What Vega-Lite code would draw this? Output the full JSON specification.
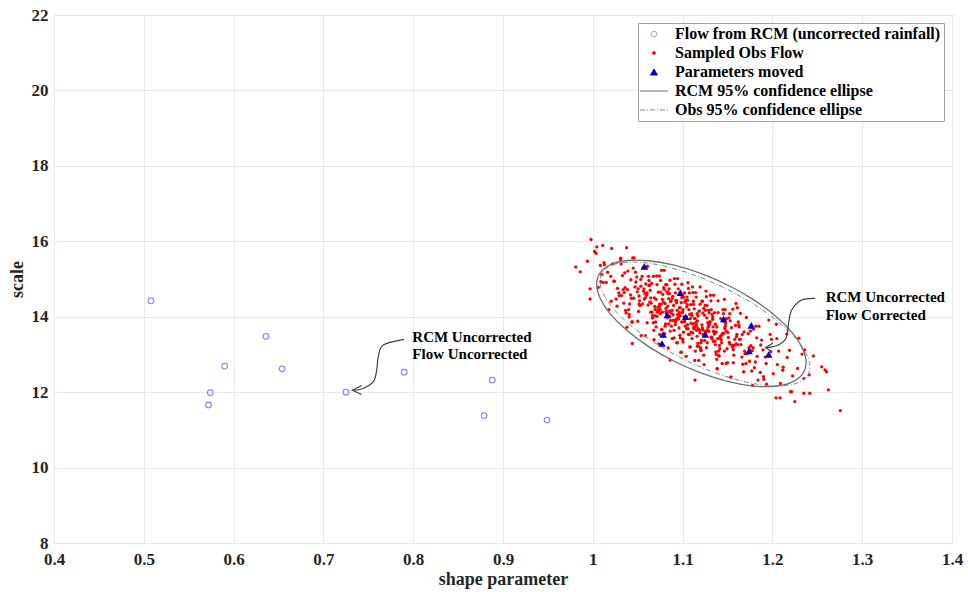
{
"$schema": "https://vega.github.io/schema/vega-lite/v6.json",
"width": 898, "height": 528,
"autosize": {"type": "none"},
"padding": {"left": 54, "top": 15, "right": 16, "bottom": 49},
"background": "white",
"config": {
  "view": {"stroke": "#a0a0a0", "strokeWidth": 1},
  "font": "Liberation Serif",
  "axis": {"grid": true, "gridColor": "#e9e9e9", "domain": false, "ticks": false, "labelFont": "Liberation Serif", "labelFontWeight": "bold", "labelColor": "#262626", "labelFontSize": 17, "labelFlush": false, "titleFont": "Liberation Serif", "titleFontWeight": "bold", "titleFontSize": 18, "titleColor": "#262626"}
},
"datasets": {
  "obs": [
{"shape":0.981,"scale":15.32},{"shape":0.997,"scale":14.74},{"shape":0.994,"scale":15.47},
{"shape":1.009,"scale":14.93},{"shape":1.002,"scale":15.73},{"shape":1.006,"scale":14.78},
{"shape":1.010,"scale":15.12},{"shape":1.018,"scale":14.19},{"shape":1.013,"scale":15.38},{"shape":1.015,"scale":14.91},{"shape":1.011,"scale":15.89},
{"shape":1.027,"scale":14.28},{"shape":1.024,"scale":14.94},{"shape":1.029,"scale":14.63},{"shape":1.022,"scale":15.40},{"shape":1.026,"scale":14.47},{"shape":1.020,"scale":15.07},
{"shape":1.038,"scale":13.72},{"shape":1.033,"scale":15.09},{"shape":1.035,"scale":14.64},{"shape":1.031,"scale":15.52},{"shape":1.037,"scale":14.10},{"shape":1.034,"scale":14.72},{"shape":1.039,"scale":15.21},{"shape":1.032,"scale":14.56},{"shape":1.036,"scale":14.77},
{"shape":1.040,"scale":14.19},{"shape":1.048,"scale":14.92},{"shape":1.043,"scale":14.49},{"shape":1.045,"scale":15.29},{"shape":1.041,"scale":14.34},{"shape":1.047,"scale":14.79},{"shape":1.044,"scale":13.86},{"shape":1.049,"scale":15.05},{"shape":1.042,"scale":14.58},{"shape":1.046,"scale":15.56},{"shape":1.0405,"scale":14.06},
{"shape":1.058,"scale":14.61},{"shape":1.053,"scale":14.30},{"shape":1.055,"scale":15.07},{"shape":1.051,"scale":14.14},{"shape":1.057,"scale":14.74},{"shape":1.054,"scale":13.50},{"shape":1.059,"scale":14.87},{"shape":1.052,"scale":14.42},{"shape":1.056,"scale":15.30},{"shape":1.050,"scale":13.88},{"shape":1.0585,"scale":14.50},{"shape":1.0535,"scale":14.99},{"shape":1.0555,"scale":14.34},{"shape":1.0515,"scale":14.55},
{"shape":1.067,"scale":13.97},{"shape":1.064,"scale":14.70},{"shape":1.069,"scale":14.27},{"shape":1.062,"scale":15.07},{"shape":1.066,"scale":14.12},{"shape":1.060,"scale":14.57},{"shape":1.068,"scale":13.64},{"shape":1.063,"scale":14.83},{"shape":1.065,"scale":14.36},{"shape":1.061,"scale":15.34},{"shape":1.0675,"scale":13.84},{"shape":1.0645,"scale":14.50},{"shape":1.0695,"scale":14.19},{"shape":1.0625,"scale":14.96},{"shape":1.0665,"scale":14.03},{"shape":1.0605,"scale":14.63},{"shape":1.0682,"scale":13.39},
{"shape":1.073,"scale":14.65},{"shape":1.075,"scale":14.20},{"shape":1.071,"scale":15.08},{"shape":1.077,"scale":13.66},{"shape":1.074,"scale":14.28},{"shape":1.079,"scale":14.77},{"shape":1.072,"scale":14.12},{"shape":1.076,"scale":14.33},{"shape":1.070,"scale":13.86},{"shape":1.078,"scale":14.59},{"shape":1.0735,"scale":14.16},{"shape":1.0755,"scale":14.96},{"shape":1.0715,"scale":14.01},{"shape":1.0775,"scale":14.46},{"shape":1.0745,"scale":13.53},{"shape":1.0795,"scale":14.72},{"shape":1.0725,"scale":14.25},{"shape":1.0765,"scale":15.23},{"shape":1.0705,"scale":13.73},{"shape":1.0785,"scale":14.39},
{"shape":1.083,"scale":13.97},{"shape":1.085,"scale":14.74},{"shape":1.081,"scale":13.81},{"shape":1.087,"scale":14.41},{"shape":1.084,"scale":13.17},{"shape":1.089,"scale":14.54},{"shape":1.082,"scale":14.09},{"shape":1.086,"scale":14.97},{"shape":1.080,"scale":13.55},{"shape":1.088,"scale":14.17},{"shape":1.0835,"scale":14.66},{"shape":1.0855,"scale":14.01},{"shape":1.0815,"scale":14.22},{"shape":1.0875,"scale":13.75},{"shape":1.0845,"scale":14.48},{"shape":1.0895,"scale":14.05},{"shape":1.0825,"scale":14.85},{"shape":1.0865,"scale":13.90},{"shape":1.0805,"scale":14.35},{"shape":1.0885,"scale":13.42},{"shape":1.0838,"scale":14.61},{"shape":1.0852,"scale":14.14},
{"shape":1.091,"scale":15.01},{"shape":1.097,"scale":13.51},{"shape":1.094,"scale":14.17},{"shape":1.099,"scale":13.86},{"shape":1.092,"scale":14.63},{"shape":1.096,"scale":13.70},{"shape":1.090,"scale":14.30},{"shape":1.098,"scale":13.06},{"shape":1.093,"scale":14.43},{"shape":1.095,"scale":13.98},{"shape":1.0915,"scale":14.86},{"shape":1.0975,"scale":13.44},{"shape":1.0945,"scale":14.06},{"shape":1.0995,"scale":14.55},{"shape":1.0925,"scale":13.90},{"shape":1.0965,"scale":14.11},{"shape":1.0905,"scale":13.64},{"shape":1.0985,"scale":14.37},{"shape":1.0932,"scale":13.94},{"shape":1.0952,"scale":14.74},{"shape":1.0918,"scale":13.79},{"shape":1.0972,"scale":14.24},{"shape":1.0942,"scale":13.31},{"shape":1.0992,"scale":14.50},
{"shape":1.102,"scale":13.92},{"shape":1.106,"scale":14.90},{"shape":1.100,"scale":13.40},{"shape":1.108,"scale":14.06},{"shape":1.103,"scale":13.75},{"shape":1.105,"scale":14.52},{"shape":1.101,"scale":13.59},{"shape":1.107,"scale":14.19},{"shape":1.104,"scale":12.95},{"shape":1.109,"scale":14.32},{"shape":1.1025,"scale":13.87},{"shape":1.1065,"scale":14.75},{"shape":1.1005,"scale":13.33},{"shape":1.1085,"scale":13.95},{"shape":1.1035,"scale":14.44},{"shape":1.1055,"scale":13.79},{"shape":1.1015,"scale":14.00},{"shape":1.1075,"scale":13.53},{"shape":1.1045,"scale":14.26},{"shape":1.1095,"scale":13.83},{"shape":1.1022,"scale":14.63},{"shape":1.1062,"scale":13.68},{"shape":1.1002,"scale":14.13},{"shape":1.1082,"scale":13.20},{"shape":1.1032,"scale":14.39},
{"shape":1.115,"scale":13.81},{"shape":1.111,"scale":14.79},{"shape":1.117,"scale":13.29},{"shape":1.114,"scale":13.95},{"shape":1.119,"scale":13.64},{"shape":1.112,"scale":14.41},{"shape":1.116,"scale":13.48},{"shape":1.110,"scale":14.08},{"shape":1.118,"scale":12.84},{"shape":1.113,"scale":14.21},{"shape":1.1155,"scale":13.76},{"shape":1.1115,"scale":14.64},{"shape":1.1175,"scale":13.22},{"shape":1.1145,"scale":13.84},{"shape":1.1195,"scale":14.33},{"shape":1.1125,"scale":13.68},{"shape":1.1165,"scale":13.89},{"shape":1.1105,"scale":13.42},{"shape":1.1185,"scale":14.15},{"shape":1.1135,"scale":13.72},{"shape":1.1152,"scale":14.52},{"shape":1.1112,"scale":13.57},{"shape":1.1172,"scale":14.02},{"shape":1.1142,"scale":13.09},
{"shape":1.129,"scale":14.17},{"shape":1.122,"scale":13.70},{"shape":1.126,"scale":14.68},{"shape":1.120,"scale":13.18},{"shape":1.128,"scale":13.84},{"shape":1.123,"scale":13.53},{"shape":1.125,"scale":14.30},{"shape":1.121,"scale":13.37},{"shape":1.127,"scale":13.97},{"shape":1.124,"scale":12.73},{"shape":1.1295,"scale":14.10},{"shape":1.1225,"scale":13.65},{"shape":1.1265,"scale":14.53},{"shape":1.1205,"scale":13.11},{"shape":1.1285,"scale":13.73},{"shape":1.1235,"scale":14.22},{"shape":1.1255,"scale":13.57},{"shape":1.1215,"scale":13.78},{"shape":1.1275,"scale":13.31},{"shape":1.1245,"scale":14.04},{"shape":1.1292,"scale":13.61},{"shape":1.1222,"scale":14.41},
{"shape":1.136,"scale":13.35},{"shape":1.130,"scale":13.80},{"shape":1.138,"scale":12.87},{"shape":1.133,"scale":14.06},{"shape":1.135,"scale":13.59},{"shape":1.131,"scale":14.57},{"shape":1.137,"scale":13.07},{"shape":1.134,"scale":13.73},{"shape":1.139,"scale":13.42},{"shape":1.132,"scale":14.19},{"shape":1.1365,"scale":13.26},{"shape":1.1305,"scale":13.86},{"shape":1.1385,"scale":12.62},{"shape":1.1335,"scale":13.99},{"shape":1.1355,"scale":13.54},{"shape":1.1315,"scale":14.42},{"shape":1.1375,"scale":13.00},{"shape":1.1345,"scale":13.62},{"shape":1.1395,"scale":14.11},{"shape":1.1325,"scale":13.46},
{"shape":1.146,"scale":13.56},{"shape":1.140,"scale":13.09},{"shape":1.148,"scale":13.82},{"shape":1.143,"scale":13.39},{"shape":1.145,"scale":14.19},{"shape":1.141,"scale":13.24},{"shape":1.147,"scale":13.69},{"shape":1.144,"scale":12.76},{"shape":1.149,"scale":13.95},{"shape":1.142,"scale":13.48},{"shape":1.1465,"scale":14.46},{"shape":1.1405,"scale":12.96},{"shape":1.1485,"scale":13.62},{"shape":1.1435,"scale":13.31},{"shape":1.1455,"scale":14.08},{"shape":1.1415,"scale":13.15},{"shape":1.1475,"scale":13.75},
{"shape":1.154,"scale":12.40},{"shape":1.159,"scale":13.77},{"shape":1.152,"scale":13.32},{"shape":1.156,"scale":14.20},{"shape":1.150,"scale":12.78},{"shape":1.158,"scale":13.40},{"shape":1.153,"scale":13.89},{"shape":1.155,"scale":13.24},{"shape":1.151,"scale":13.45},{"shape":1.157,"scale":12.98},{"shape":1.1545,"scale":13.71},{"shape":1.1595,"scale":13.28},{"shape":1.1525,"scale":14.08},{"shape":1.1565,"scale":13.13},
{"shape":1.160,"scale":13.47},{"shape":1.168,"scale":12.54},{"shape":1.163,"scale":13.73},{"shape":1.165,"scale":13.26},{"shape":1.161,"scale":14.24},{"shape":1.167,"scale":12.74},{"shape":1.164,"scale":13.40},{"shape":1.169,"scale":13.09},{"shape":1.162,"scale":13.86},{"shape":1.166,"scale":12.93},{"shape":1.1605,"scale":13.53},
{"shape":1.178,"scale":12.18},{"shape":1.173,"scale":13.55},{"shape":1.175,"scale":13.10},{"shape":1.171,"scale":13.98},{"shape":1.177,"scale":12.56},{"shape":1.174,"scale":13.18},{"shape":1.179,"scale":13.67},{"shape":1.172,"scale":13.02},{"shape":1.176,"scale":13.23},
{"shape":1.180,"scale":12.65},{"shape":1.188,"scale":13.38},{"shape":1.183,"scale":12.95},{"shape":1.185,"scale":13.75},{"shape":1.181,"scale":12.80},{"shape":1.187,"scale":13.25},{"shape":1.184,"scale":12.32},
{"shape":1.199,"scale":13.40},{"shape":1.192,"scale":12.93},{"shape":1.196,"scale":13.91},{"shape":1.190,"scale":12.41},{"shape":1.198,"scale":13.07},{"shape":1.193,"scale":12.76},
{"shape":1.205,"scale":13.42},{"shape":1.201,"scale":12.49},{"shape":1.207,"scale":13.09},{"shape":1.204,"scale":11.85},
{"shape":1.219,"scale":13.11},{"shape":1.212,"scale":12.66},{"shape":1.216,"scale":13.54},
{"shape":1.220,"scale":12.01},{"shape":1.228,"scale":12.63},
{"shape":1.233,"scale":13.01},{"shape":1.235,"scale":12.36},
{"shape":1.241,"scale":12.46},
{"shape":0.998,"scale":16.05},{"shape":0.986,"scale":15.19},{"shape":0.997,"scale":14.47},{"shape":1.0036,"scale":15.68},{"shape":1.021,"scale":15.81},{"shape":1.0377,"scale":15.83},{"shape":1.031,"scale":15.55},{"shape":1.044,"scale":13.29},{"shape":1.086,"scale":12.85},{"shape":1.1138,"scale":12.32},{"shape":1.2456,"scale":12.96},{"shape":1.2549,"scale":12.67},{"shape":1.2603,"scale":12.54},{"shape":1.2623,"scale":12.06},{"shape":1.2416,"scale":11.97},{"shape":1.235,"scale":11.97},{"shape":1.2249,"scale":11.75},{"shape":1.2756,"scale":11.51},{"shape":1.2213,"scale":12.01},{"shape":1.209,"scale":12.23},{"shape":1.236,"scale":13.12},{"shape":1.2586,"scale":12.59},
{"shape":1.0045,"scale":15.85},{"shape":1.0085,"scale":15.36},
{"shape":1.0115,"scale":14.91},{"shape":1.0165,"scale":15.18},{"shape":1.0125,"scale":15.43},
{"shape":1.0295,"scale":14.56},{"shape":1.0235,"scale":14.94},{"shape":1.0275,"scale":14.75},{"shape":1.0205,"scale":14.41},
{"shape":1.0355,"scale":15.16},{"shape":1.0345,"scale":14.36},{"shape":1.0385,"scale":14.72},{"shape":1.0315,"scale":15.40},{"shape":1.0365,"scale":14.17},
{"shape":1.0425,"scale":14.98},{"shape":1.0495,"scale":14.66},{"shape":1.0435,"scale":13.86},{"shape":1.0475,"scale":15.18},{"shape":1.0405,"scale":13.99},{"shape":1.0455,"scale":14.49},{"shape":1.0445,"scale":15.56},
{"shape":1.0585,"scale":13.50},{"shape":1.0515,"scale":14.34},{"shape":1.0565,"scale":14.68},{"shape":1.0525,"scale":14.30},{"shape":1.0595,"scale":15.30},{"shape":1.0535,"scale":14.81},{"shape":1.0575,"scale":14.47},{"shape":1.0505,"scale":14.74},
{"shape":1.0655,"scale":14.88},{"shape":1.0645,"scale":14.12},{"shape":1.0685,"scale":14.50},{"shape":1.0615,"scale":14.31},{"shape":1.0665,"scale":13.97},{"shape":1.0625,"scale":14.83},{"shape":1.0695,"scale":14.03},{"shape":1.0635,"scale":14.39},{"shape":1.0675,"scale":15.07},{"shape":1.0605,"scale":13.84},
{"shape":1.0755,"scale":14.65},{"shape":1.0745,"scale":14.33},{"shape":1.0785,"scale":13.53},{"shape":1.0715,"scale":14.85},{"shape":1.0765,"scale":13.66},{"shape":1.0725,"scale":14.16},{"shape":1.0795,"scale":15.23},{"shape":1.0735,"scale":13.28},{"shape":1.0775,"scale":14.12},{"shape":1.0705,"scale":14.46},{"shape":1.0752,"scale":14.08},{"shape":1.0742,"scale":15.08},
{"shape":1.0885,"scale":14.48},{"shape":1.0815,"scale":14.14},{"shape":1.0865,"scale":14.41},{"shape":1.0825,"scale":14.66},{"shape":1.0895,"scale":13.90},{"shape":1.0835,"scale":14.28},{"shape":1.0875,"scale":14.09},{"shape":1.0805,"scale":13.75},{"shape":1.0855,"scale":14.61},{"shape":1.0845,"scale":13.81},{"shape":1.0882,"scale":14.17},{"shape":1.0812,"scale":14.85},{"shape":1.0862,"scale":13.62},
{"shape":1.0925,"scale":14.43},{"shape":1.0995,"scale":14.11},{"shape":1.0935,"scale":13.31},{"shape":1.0975,"scale":14.63},{"shape":1.0905,"scale":13.44},{"shape":1.0955,"scale":13.94},{"shape":1.0945,"scale":15.01},{"shape":1.0985,"scale":13.06},{"shape":1.0915,"scale":13.90},{"shape":1.0965,"scale":14.24},{"shape":1.0922,"scale":13.86},{"shape":1.0992,"scale":14.86},{"shape":1.0932,"scale":14.37},{"shape":1.0972,"scale":14.03},
{"shape":1.1005,"scale":14.19},{"shape":1.1055,"scale":14.44},{"shape":1.1045,"scale":13.68},{"shape":1.1085,"scale":14.06},{"shape":1.1015,"scale":13.87},{"shape":1.1065,"scale":13.53},{"shape":1.1025,"scale":14.39},{"shape":1.1095,"scale":13.59},{"shape":1.1035,"scale":13.95},{"shape":1.1075,"scale":14.63},{"shape":1.1002,"scale":13.40},{"shape":1.1052,"scale":14.32},{"shape":1.1042,"scale":14.00},{"shape":1.1082,"scale":13.20},{"shape":1.1012,"scale":14.52},
{"shape":1.1165,"scale":13.22},{"shape":1.1125,"scale":13.72},{"shape":1.1195,"scale":14.79},{"shape":1.1135,"scale":12.84},{"shape":1.1175,"scale":13.68},{"shape":1.1105,"scale":14.02},{"shape":1.1155,"scale":13.64},{"shape":1.1145,"scale":14.64},{"shape":1.1185,"scale":14.15},{"shape":1.1115,"scale":13.81},{"shape":1.1162,"scale":14.08},{"shape":1.1122,"scale":14.33},{"shape":1.1192,"scale":13.57},{"shape":1.1132,"scale":13.95},
{"shape":1.1275,"scale":13.65},{"shape":1.1205,"scale":13.31},{"shape":1.1255,"scale":14.17},{"shape":1.1245,"scale":13.37},{"shape":1.1285,"scale":13.73},{"shape":1.1215,"scale":14.41},{"shape":1.1265,"scale":13.18},{"shape":1.1225,"scale":14.10},{"shape":1.1295,"scale":13.78},{"shape":1.1235,"scale":12.98},{"shape":1.1272,"scale":14.30},{"shape":1.1202,"scale":13.11},{"shape":1.1252,"scale":13.61},
{"shape":1.1345,"scale":14.57},{"shape":1.1385,"scale":12.62},{"shape":1.1315,"scale":13.46},{"shape":1.1365,"scale":13.80},{"shape":1.1325,"scale":13.42},{"shape":1.1395,"scale":14.42},{"shape":1.1335,"scale":13.93},{"shape":1.1375,"scale":13.59},{"shape":1.1305,"scale":13.86},{"shape":1.1355,"scale":14.11},{"shape":1.1342,"scale":13.35},{"shape":1.1382,"scale":13.73},
{"shape":1.1415,"scale":13.43},{"shape":1.1465,"scale":13.09},{"shape":1.1425,"scale":13.95},{"shape":1.1495,"scale":13.15},{"shape":1.1435,"scale":13.51},{"shape":1.1475,"scale":14.19},{"shape":1.1405,"scale":12.96},{"shape":1.1455,"scale":13.88},{"shape":1.1445,"scale":13.56},{"shape":1.1485,"scale":12.76},
{"shape":1.1515,"scale":13.97},{"shape":1.1565,"scale":12.78},{"shape":1.1525,"scale":13.28},{"shape":1.1595,"scale":14.35},{"shape":1.1535,"scale":12.40},{"shape":1.1575,"scale":13.24},{"shape":1.1505,"scale":13.58},{"shape":1.1555,"scale":13.20},
{"shape":1.1645,"scale":14.09},{"shape":1.1685,"scale":13.60},{"shape":1.1615,"scale":13.26},{"shape":1.1665,"scale":13.53},{"shape":1.1625,"scale":13.78},{"shape":1.1695,"scale":13.02},{"shape":1.1635,"scale":13.40},
{"shape":1.1775,"scale":13.10},{"shape":1.1705,"scale":12.76},{"shape":1.1755,"scale":13.62},{"shape":1.1745,"scale":12.82},{"shape":1.1785,"scale":13.18},
{"shape":1.1815,"scale":13.75},{"shape":1.1865,"scale":12.52},{"shape":1.1825,"scale":13.44},{"shape":1.1895,"scale":13.12},
{"shape":1.1935,"scale":12.21},{"shape":1.1975,"scale":13.53},{"shape":1.1905,"scale":12.34},
{"shape":1.2055,"scale":12.73},{"shape":1.2045,"scale":13.80},{"shape":1.2085,"scale":11.85},
{"shape":1.2115,"scale":12.58},{"shape":1.2165,"scale":12.92},
{"shape":1.2225,"scale":12.43},{"shape":1.2295,"scale":13.43}
  ],
  "rcm": [
{"shape":0.508,"scale":14.42},{"shape":0.636,"scale":13.48},{"shape":0.590,"scale":12.69},{"shape":0.654,"scale":12.62},{"shape":0.574,"scale":11.99},{"shape":0.572,"scale":11.66},{"shape":0.725,"scale":12.00},{"shape":0.790,"scale":12.53},{"shape":0.888,"scale":12.32},{"shape":0.879,"scale":11.38},{"shape":0.949,"scale":11.26}
  ],
  "moved": [
{"shape":1.0574,"scale":15.33},{"shape":1.0975,"scale":14.64},{"shape":1.083,"scale":14.05},{"shape":1.1034,"scale":14.00},{"shape":1.1457,"scale":13.94},{"shape":1.1765,"scale":13.77},{"shape":1.1253,"scale":13.53},{"shape":1.0782,"scale":13.53},{"shape":1.0771,"scale":13.29},{"shape":1.1739,"scale":13.09},{"shape":1.1958,"scale":13.00}
  ],
  "rcm_ellipse": [
{"o":0,"shape":1.2375,"scale":12.785},{"o":1,"shape":1.2335,"scale":12.479},{"o":2,"shape":1.2219,"scale":12.265},{"o":3,"shape":1.2033,"scale":12.156},{"o":4,"shape":1.1792,"scale":12.162},{"o":5,"shape":1.1511,"scale":12.281},{"o":6,"shape":1.1209,"scale":12.504},{"o":7,"shape":1.0907,"scale":12.818},{"o":8,"shape":1.0626,"scale":13.200},{"o":9,"shape":1.0385,"scale":13.625},{"o":10,"shape":1.0199,"scale":14.063},{"o":11,"shape":1.0083,"scale":14.485},{"o":12,"shape":1.0043,"scale":14.861},{"o":13,"shape":1.0083,"scale":15.167},{"o":14,"shape":1.0199,"scale":15.382},{"o":15,"shape":1.0385,"scale":15.490},{"o":16,"shape":1.0626,"scale":15.484},{"o":17,"shape":1.0907,"scale":15.365},{"o":18,"shape":1.1209,"scale":15.142},{"o":19,"shape":1.1511,"scale":14.828},{"o":20,"shape":1.1792,"scale":14.446},{"o":21,"shape":1.2033,"scale":14.021},{"o":22,"shape":1.2219,"scale":13.583},{"o":23,"shape":1.2335,"scale":13.161}
  ],
  "obs_ellipse": [
{"o":0,"shape":1.2418,"scale":12.671},{"o":1,"shape":1.2378,"scale":12.402},{"o":2,"shape":1.2262,"scale":12.229},{"o":3,"shape":1.2076,"scale":12.163},{"o":4,"shape":1.1834,"scale":12.210},{"o":5,"shape":1.1552,"scale":12.366},{"o":6,"shape":1.1249,"scale":12.619},{"o":7,"shape":1.0946,"scale":12.954},{"o":8,"shape":1.0664,"scale":13.347},{"o":9,"shape":1.0422,"scale":13.771},{"o":10,"shape":1.0236,"scale":14.197},{"o":11,"shape":1.0120,"scale":14.597},{"o":12,"shape":1.0080,"scale":14.943},{"o":13,"shape":1.0120,"scale":15.212},{"o":14,"shape":1.0236,"scale":15.385},{"o":15,"shape":1.0422,"scale":15.451},{"o":16,"shape":1.0664,"scale":15.404},{"o":17,"shape":1.0946,"scale":15.249},{"o":18,"shape":1.1249,"scale":14.995},{"o":19,"shape":1.1552,"scale":14.660},{"o":20,"shape":1.1834,"scale":14.268},{"o":21,"shape":1.2076,"scale":13.843},{"o":22,"shape":1.2262,"scale":13.417},{"o":23,"shape":1.2378,"scale":13.017}
  ],
  "arrow_curves": [
{"arrow":"a1","o":0,"shape":0.7898,"scale":13.401},{"arrow":"a1","o":1,"shape":0.7667,"scale":13.250},{"arrow":"a1","o":2,"shape":0.7611,"scale":12.940},{"arrow":"a1","o":3,"shape":0.7594,"scale":12.587},{"arrow":"a1","o":4,"shape":0.7556,"scale":12.277},{"arrow":"a1","o":5,"shape":0.7441,"scale":12.097},{"arrow":"a1","o":6,"shape":0.7330,"scale":12.043},
{"arrow":"a2","o":0,"shape":1.2474,"scale":14.488},{"arrow":"a2","o":1,"shape":1.2326,"scale":14.443},{"arrow":"a2","o":2,"shape":1.2215,"scale":14.178},{"arrow":"a2","o":3,"shape":1.2177,"scale":13.780},{"arrow":"a2","o":4,"shape":1.2151,"scale":13.428},{"arrow":"a2","o":5,"shape":1.2066,"scale":13.250},{"arrow":"a2","o":6,"shape":1.1937,"scale":13.178}
  ],
  "arrow_heads": [
{"arrow":"h1","o":0,"shape":0.7426,"scale":12.176},{"arrow":"h1","o":1,"shape":0.7322,"scale":12.049},{"arrow":"h1","o":2,"shape":0.7426,"scale":11.937},
{"arrow":"h2","o":0,"shape":1.2007,"scale":13.303},{"arrow":"h2","o":1,"shape":1.1923,"scale":13.178},{"arrow":"h2","o":2,"shape":1.1996,"scale":13.078}
  ],
  "notes": [
{"shape":0.799,"scale":13.337,"label":"RCM Uncorrected"},{"shape":0.799,"scale":12.879,"label":"Flow Uncorrected"},
{"shape":1.2593,"scale":14.382,"label":"RCM Uncorrected"},{"shape":1.2593,"scale":13.913,"label":"Flow Corrected"}
  ]
},
"encoding": {
  "x": {"field": "shape", "type": "quantitative", "scale": {"domain": [0.4, 1.4], "nice": false, "zero": false},
        "axis": {"values": [0.4,0.5,0.6,0.7,0.8,0.9,1,1.1,1.2,1.3,1.4], "format": "~g", "title": "shape parameter", "labelPadding": 8, "titlePadding": 3}},
  "y": {"field": "scale", "type": "quantitative", "scale": {"domain": [8, 22], "nice": false, "zero": false},
        "axis": {"values": [8,10,12,14,16,18,20,22], "title": "scale", "labelPadding": 6, "titlePadding": 5}}
},
"layer": [
  {"data": {"name": "obs"},
   "mark": {"type": "point", "filled": true, "size": 11, "opacity": 1, "strokeWidth": 0},
   "encoding": {"color": {"datum": "Sampled Obs Flow", "type": "nominal",
      "scale": {"domain": ["Flow from RCM (uncorrected rainfall)", "Sampled Obs Flow", "Parameters moved", "RCM 95% confidence ellipse", "Obs 95% confidence ellipse"],
                "range": ["#8080ff", "#ff0000", "#0000cd", "#6e6e6e", "#708c8c"]},
      "legend": {"title": null, "orient": "top-right", "offset": 8, "strokeColor": "#a0a0a0", "fillColor": "white", "padding": 3,
                 "labelFont": "Liberation Serif", "labelFontWeight": "bold", "labelFontSize": 16, "labelColor": "#000000", "labelLimit": 400,
                 "symbolSize": 784, "labelOffset": 13, "symbolOffset": 5, "rowPadding": 3,
                 "encoding": {"symbols": {
                    "shape": {"value": {"expr": "datum.value === 'Parameters moved' ? 'triangle-up' : ((datum.value === 'RCM 95% confidence ellipse' || datum.value === 'Obs 95% confidence ellipse') ? 'stroke' : 'circle')"}},
                    "size": {"value": {"expr": "datum.value === 'Parameters moved' ? 50 : ((datum.value === 'RCM 95% confidence ellipse' || datum.value === 'Obs 95% confidence ellipse') ? 784 : (datum.value === 'Sampled Obs Flow' ? 8 : 30))"}},
                    "fill": {"value": {"expr": "datum.value === 'Parameters moved' ? '#0000cd' : (datum.value === 'Sampled Obs Flow' ? '#ff0000' : '#ffffff')"}},
                    "fillOpacity": {"value": {"expr": "datum.value === 'Flow from RCM (uncorrected rainfall)' ? 0 : 1"}},
                    "stroke": {"value": {"expr": "datum.value === 'Flow from RCM (uncorrected rainfall)' ? '#8080ff' : (datum.value === 'RCM 95% confidence ellipse' ? '#6e6e6e' : (datum.value === 'Obs 95% confidence ellipse' ? '#708c8c' : 'transparent'))"}},
                    "strokeDash": {"value": {"expr": "datum.value === 'Obs 95% confidence ellipse' ? [5,2,1,2] : [1,0]"}},
                    "strokeWidth": {"value": 1},
                    "opacity": {"value": 1}
                 }}}}}},
  {"data": {"name": "rcm_ellipse"},
   "mark": {"type": "line", "interpolate": "cardinal-closed", "strokeWidth": 1.3},
   "encoding": {"order": {"field": "o", "type": "quantitative"}, "color": {"datum": "RCM 95% confidence ellipse", "type": "nominal"}}},
  {"data": {"name": "obs_ellipse"},
   "mark": {"type": "line", "interpolate": "cardinal-closed", "strokeWidth": 1, "strokeDash": [5, 2, 1, 2]},
   "encoding": {"order": {"field": "o", "type": "quantitative"}, "color": {"datum": "Obs 95% confidence ellipse", "type": "nominal"}}},
  {"data": {"name": "rcm"},
   "mark": {"type": "point", "filled": false, "size": 32, "strokeWidth": 1.1, "opacity": 1},
   "encoding": {"color": {"datum": "Flow from RCM (uncorrected rainfall)", "type": "nominal"}}},
  {"data": {"name": "moved"},
   "mark": {"type": "point", "shape": "triangle-up", "filled": true, "size": 58, "opacity": 1},
   "encoding": {"color": {"datum": "Parameters moved", "type": "nominal"}}},
  {"data": {"name": "arrow_curves"},
   "mark": {"type": "line", "interpolate": "cardinal", "color": "#404040", "strokeWidth": 1.2},
   "encoding": {"detail": {"field": "arrow"}, "order": {"field": "o", "type": "quantitative"}}},
  {"data": {"name": "arrow_heads"},
   "mark": {"type": "line", "color": "#404040", "strokeWidth": 1.2},
   "encoding": {"detail": {"field": "arrow"}, "order": {"field": "o", "type": "quantitative"}}},
  {"data": {"name": "notes"},
   "mark": {"type": "text", "align": "left", "baseline": "alphabetic", "font": "Liberation Serif", "fontWeight": "bold", "fontSize": 15, "color": "#000000"},
   "encoding": {"text": {"field": "label"}}}
]
}
